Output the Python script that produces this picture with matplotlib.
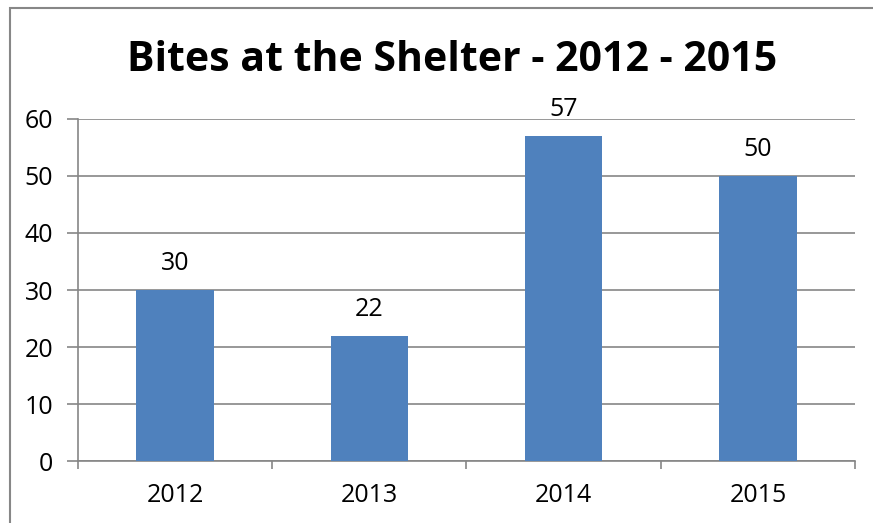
import matplotlib.pyplot as plt
from matplotlib.patches import Rectangle

years = ['2012', '2013', '2014', '2015']
bites = [30, 22, 57, 50]
y_ticks = [0, 10, 20, 30, 40, 50, 60]

plt.rcParams['font.family'] = ['Open Sans', 'DejaVu Sans']

fig = plt.figure(figsize=(8.73, 5.23), dpi=100)
ax = fig.add_axes([0.0893, 0.1185, 0.8901, 0.654])

# outer chart border (only top and left visible in the crop)
fig.add_artist(Rectangle((9.5 / 873, -0.1), 1.0, 1.1 - 7.5 / 523, transform=fig.transFigure,
                         fill=False, edgecolor='#878787', linewidth=1.5))

x = range(len(years))
bars = ax.bar(x, bites, width=0.4, color='#4F81BD', zorder=3)
for xi, v in zip(x, bites):
    ax.text(xi, v + 2.4, str(v), ha='center', va='bottom', fontsize=18)

ax.set_xlim(-0.5, 3.5)
ax.set_ylim(0, 60)
ax.set_yticks(y_ticks)
ax.set_xticks(list(x))
ax.set_xticklabels(years)
ax.set_xticks([-0.5, 0.5, 1.5, 2.5, 3.5], minor=True)
ax.tick_params(axis='x', which='major', length=0, pad=16, labelsize=18)
ax.tick_params(axis='x', which='minor', length=6, color='#868686', width=1.2)
ax.tick_params(axis='y', length=8, color='#868686', width=1.2, pad=10, labelsize=18)
ax.yaxis.grid(True, color='#868686', linewidth=1.2, zorder=0)

for s in ['top', 'right']:
    ax.spines[s].set_visible(False)
for s in ['left', 'bottom']:
    ax.spines[s].set_color('#868686')
    ax.spines[s].set_linewidth(1.2)

fig.text(0.518, 0.885, 'Bites at the Shelter - 2012 - 2015', ha='center', va='center',
         fontsize=29.5, fontweight='bold')

plt.savefig('out.png', dpi=100)
